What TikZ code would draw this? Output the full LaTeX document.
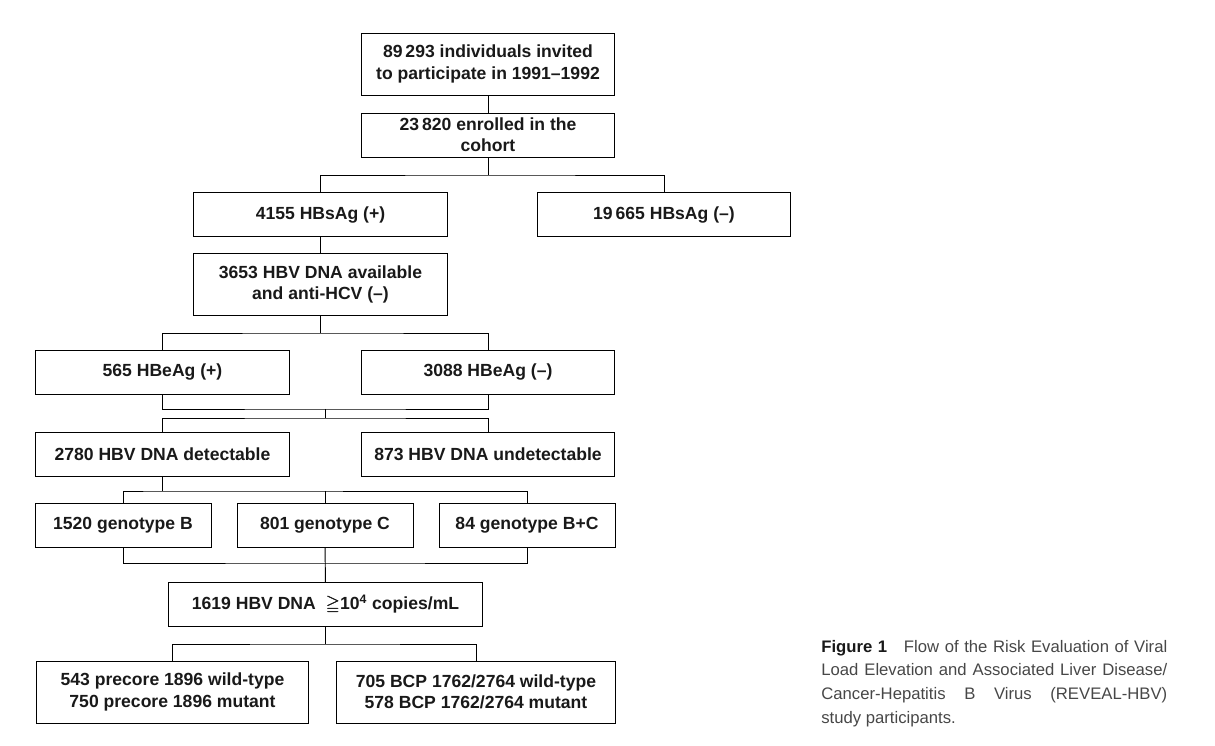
\documentclass[tikz,border=0pt]{standalone}
\usepackage{amssymb}
\usepackage{bm}
\usepackage{fontspec}
\setmainfont{Liberation Sans}
\usepackage{tikz}

\begin{document}
\begin{tikzpicture}[
  x=0.02cm, y=-0.02cm,
  box/.style={draw,line width=0.55pt,align=center,inner sep=2pt,minimum height=0.88cm,
    font=\bfseries\fontsize{10}{12}\selectfont,text=black!90},
  tall/.style={minimum height=1.24cm},
  link/.style={line width=0.55pt}
]
\useasboundingbox (0,0) rectangle (1215,746);

\node[box,tall,minimum width=5.08cm] (invited) at (488,64) {89\,293 individuals invited\\to participate in 1991--1992};
\node[box,minimum width=5.08cm] (enrolled) at (488,135) {23\,820 enrolled in the\\cohort};
\node[box,minimum width=5.1cm] (sagpos) at (320.5,214.5) {4155 HBsAg (+)};
\node[box,minimum width=5.08cm] (sagneg) at (664,214.5) {19\,665 HBsAg (--)};
\node[box,tall,minimum width=5.1cm] (dnaavail) at (320.5,284.5) {3653 HBV DNA available\\and anti-HCV (--)};
\node[box,minimum width=5.1cm] (eagpos) at (162.5,372) {565 HBeAg (+)};
\node[box,minimum width=5.08cm] (eagneg) at (488,372) {3088 HBeAg (--)};
\node[box,minimum width=5.1cm] (detect) at (162.5,454) {2780 HBV DNA detectable};
\node[box,minimum width=5.08cm] (undetect) at (488,454) {873 HBV DNA undetectable};
\node[box,minimum width=3.52cm] (genoB) at (123,525.5) {1520 genotype B};
\node[box,minimum width=3.52cm] (genoC) at (325,525.5) {801 genotype C};
\node[box,minimum width=3.52cm] (genoBC) at (527,525.5) {84 genotype B+C};
\node[box,minimum width=6.3cm] (highdna) at (325.5,604.5) {1619 HBV DNA\; $\bm{\geqq}$10\textsuperscript{4} copies/mL};
\node[box,tall,minimum width=5.46cm] (precore) at (172.5,692) {543 precore 1896 wild-type\\750 precore 1896 mutant};
\node[box,tall,minimum width=5.6cm] (bcp) at (476,692) {705 BCP 1762/2764 wild-type\\578 BCP 1762/2764 mutant};

% junctions
\coordinate (jEnr) at (488,175);
\coordinate (jAvail) at (320.5,333);
\coordinate (jEag) at (325,409);
\coordinate (jDet) at (325,418);
\coordinate (jGeno) at (162.5,491);
\coordinate (jGenoC) at (325,491);
\coordinate (jHigh) at (325,563);
\coordinate (jMut) at (325.5,644);

\draw[link] (invited) -- (enrolled);
\draw[link] (enrolled) -- (jEnr);
\draw[link] (sagpos) |- (jEnr) -| (sagneg);
\draw[link] (sagpos) -- (dnaavail);
\draw[link] (dnaavail) -- (jAvail);
\draw[link] (eagpos) |- (jAvail) -| (eagneg);
\draw[link] (eagpos) |- (jEag) -| (eagneg);
\draw[link] (jEag) -- (jDet);
\draw[link] (detect) |- (jDet) -| (undetect);
\draw[link] (detect) -- (jGeno);
\draw[link] (genoB) |- (jGeno) -| (genoBC);
\draw[link] (genoC) -- (jGenoC);
\draw[link] (genoB) |- (jHigh) -| (genoBC);
\draw[link] (genoC) -- (highdna);
\draw[link] (highdna) -- (jMut);
\draw[link] (precore) |- (jMut) -| (bcp);

\node[anchor=north west,inner sep=0pt,text width=6.92cm,align=justify,
  font=\fontsize{9.5}{13.4}\selectfont,text=black!72] (caption) at (821,640)
  {\textbf{\color{black!90}Figure 1}\quad Flow of the Risk Evaluation of Viral\linebreak
   Load Elevation and Associated Liver Disease/\linebreak
   Cancer-Hepatitis B Virus (REVEAL-HBV)\linebreak
   study participants.};
\end{tikzpicture}
\end{document}
